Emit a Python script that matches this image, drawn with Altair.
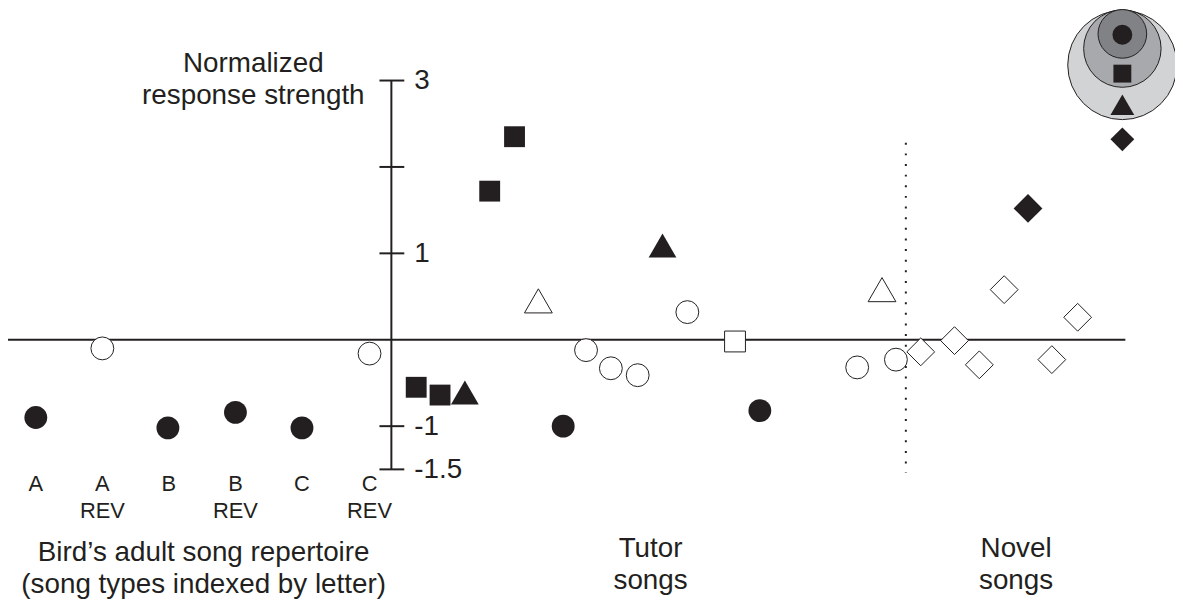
import altair as alt
import pandas as pd

# ---------------- data (x = position along the horizontal axis, v = normalized response) ----
filled_circle_x = [28, 161, 229, 296, 559, 757]
filled_circle_v = [-0.90, -1.02, -0.84, -1.02, -1.00, -0.82]

open_circle_x = [95, 364, 582, 607, 634, 684, 855, 894]
open_circle_v = [-0.10, -0.16, -0.12, -0.33, -0.41, 0.32, -0.32, -0.23]

filled_square_x = [510, 485, 411, 435]
filled_square_v = [2.35, 1.72, -0.55, -0.64]

open_square_x = [732]
open_square_v = [-0.02]

filled_triangle_x = [460, 659]
filled_triangle_v = [-0.61, 1.09]

open_triangle_x = [534, 880]
open_triangle_v = [0.45, 0.58]

open_diamond_x = [919, 953, 978, 1003, 1051, 1077]
open_diamond_v = [-0.14, -0.01, -0.29, 0.58, -0.23, 0.26]

filled_diamond_x = [1027]
filled_diamond_v = [1.52]

# y-axis ticks
tick_values = [3, 2, 1, -1, -1.5]
tick_labels = ["3", "", "1", "-1", "-1.5"]

# category labels under the repertoire songs
cat_x = [28, 95, 162, 229, 296, 364]
cat_line1 = ["A", "A", "B", "B", "C", "C"]
cat_line2 = ["", "REV", "", "REV", "", "REV"]

# group titles
group_x = [197, 647, 1015]
group_line1 = ["Bird\u2019s adult song repertoire", "Tutor", "Novel"]
group_line2 = ["(song types indexed by letter)", "songs", "songs"]

# legend (nested circles + symbols)
legend_circle_v = [3.18, 3.37, 3.54]
legend_symbol_shape = ["circle", "square", "triangle-up", "diamond"]
legend_symbol_v = [3.53, 3.08, 2.72, 2.32]
legend_x = 1122

# ---------------- layout constants ----------------
W, H = 1175, 594
PX = 87.0                      # pixels per response unit
VMAX = 332 / PX
VMIN = VMAX - H / PX
AXIS_X = 386
DOT_X = 904
INK = "#231f20"
FONT = "Liberation Sans"

xs = alt.Scale(domain=[0, W], nice=False, zero=False)
ys = alt.Scale(domain=[VMIN, VMAX], nice=False, zero=False)


def X(f="x"):
    return alt.X(f"{f}:Q", scale=xs, axis=None)


def Y(f="v"):
    return alt.Y(f"{f}:Q", scale=ys, axis=None)


def pts_layer(xx, vv, shape, size, filled):
    df = pd.DataFrame({"x": xx, "v": vv})
    if filled:
        mk = alt.Chart(df).mark_point(shape=shape, size=size, filled=True, fill=INK,
                                      strokeWidth=0, opacity=1, fillOpacity=1)
    else:
        mk = alt.Chart(df).mark_point(shape=shape, size=size, filled=True, fill="white",
                                      stroke=INK, strokeWidth=1, opacity=1, fillOpacity=1)
    return mk.encode(x=X(), y=Y())


SIZES = {"circle": 529, "square": 441, "triangle-up": 784, "diamond": 784}
LEG_SIZES = {"circle": 400, "square": 324, "triangle-up": 576, "diamond": 576}

point_layers = [
    pts_layer(open_circle_x, open_circle_v, "circle", SIZES["circle"], False),
    pts_layer(open_square_x, open_square_v, "square", SIZES["square"], False),
    pts_layer(open_triangle_x, open_triangle_v, "triangle-up", SIZES["triangle-up"], False),
    pts_layer(open_diamond_x, open_diamond_v, "diamond", SIZES["diamond"], False),
    pts_layer(filled_circle_x, filled_circle_v, "circle", SIZES["circle"], True),
    pts_layer(filled_square_x, filled_square_v, "square", SIZES["square"], True),
    pts_layer(filled_triangle_x, filled_triangle_v, "triangle-up", SIZES["triangle-up"], True),
    pts_layer(filled_diamond_x, filled_diamond_v, "diamond", 841, True),
]

# legend circles (outer -> inner)
legend_fills = ["#d1d3d4", "#a7a9ac", "#808285"]
legend_sizes = [12100, 6084, 2401]
legend_layers = []
for vv, fc, sz in zip(legend_circle_v, legend_fills, legend_sizes):
    legend_layers.append(
        alt.Chart(pd.DataFrame({"x": [legend_x], "v": [vv]})).mark_point(
            shape="circle", size=sz, filled=True, fill=fc, stroke=INK, strokeWidth=1,
            opacity=1, fillOpacity=1
        ).encode(x=X(), y=Y())
    )
for shp, vv in zip(legend_symbol_shape, legend_symbol_v):
    legend_layers.append(pts_layer([legend_x], [vv], shp, LEG_SIZES[shp], True))

# axes
hline = alt.Chart(pd.DataFrame({"x": [-2], "x2": [1125], "v": [0]})).mark_rule(
    color=INK, strokeWidth=2).encode(x=X(), x2="x2:Q", y=Y())
vline = alt.Chart(pd.DataFrame({"x": [AXIS_X], "v": [-1.5], "v2": [3]})).mark_rule(
    color=INK, strokeWidth=2).encode(x=X(), y=Y(), y2="v2:Q")
ticks_df = pd.DataFrame({"v": tick_values, "label": tick_labels,
                         "x": [AXIS_X - 12] * 5, "x2": [AXIS_X + 13] * 5, "lx": [AXIS_X + 23] * 5})
ticks = alt.Chart(ticks_df).mark_rule(color=INK, strokeWidth=2).encode(
    x=X(), x2="x2:Q", y=Y())
tick_text = alt.Chart(ticks_df).mark_text(
    align="left", baseline="middle", font=FONT, fontSize=28, color=INK, dy=1
).encode(x=X("lx"), y=Y(), text="label:N")

dotted = alt.Chart(pd.DataFrame({"x": [DOT_X], "v": [2.28], "v2": [-1.54]})).mark_rule(
    color=INK, strokeWidth=2, strokeDash=[2, 8.7], strokeCap="butt"
).encode(x=X(), y=Y(), y2="v2:Q")

# texts
cat_df = pd.DataFrame({"x": cat_x, "l1": cat_line1, "l2": cat_line2,
                       "v1": [-1.747] * 6, "v2": [-2.057] * 6})
cat1 = alt.Chart(cat_df).mark_text(font=FONT, fontSize=22, color=INK, baseline="alphabetic",
                                   align="center").encode(x=X(), y=Y("v1"), text="l1:N")
cat2 = alt.Chart(cat_df).mark_text(font=FONT, fontSize=22, color=INK, baseline="alphabetic",
                                   align="center").encode(x=X(), y=Y("v2"), text="l2:N")

grp_df = pd.DataFrame({"x": group_x, "l1": group_line1, "l2": group_line2,
                       "v1": [-2.563, -2.516, -2.516], "v2": [-2.931, -2.885, -2.885]})
grp1 = alt.Chart(grp_df).mark_text(font=FONT, fontSize=28, color=INK, baseline="alphabetic",
                                   align="center").encode(x=X(), y=Y("v1"), text="l1:N")
grp2 = alt.Chart(grp_df).mark_text(font=FONT, fontSize=28, color=INK, baseline="alphabetic",
                                   align="center").encode(x=X(), y=Y("v2"), text="l2:N")

ytitle_df = pd.DataFrame({"x": [247, 247], "v": [3.103, 2.724],
                          "t": ["Normalized", "response strength"]})
ytitle = alt.Chart(ytitle_df).mark_text(font=FONT, fontSize=28, color=INK, baseline="alphabetic",
                                        align="center").encode(x=X(), y=Y(), text="t:N")

chart = alt.layer(
    *legend_layers,
    hline, vline, ticks, tick_text, dotted,
    *point_layers,
    cat1, cat2, grp1, grp2, ytitle,
).properties(
    width=W, height=H, autosize=alt.AutoSizeParams(type="none"), padding=0
).configure_view(stroke=None)

chart.save("out.html", embed_options={"renderer": "svg", "actions": False})
